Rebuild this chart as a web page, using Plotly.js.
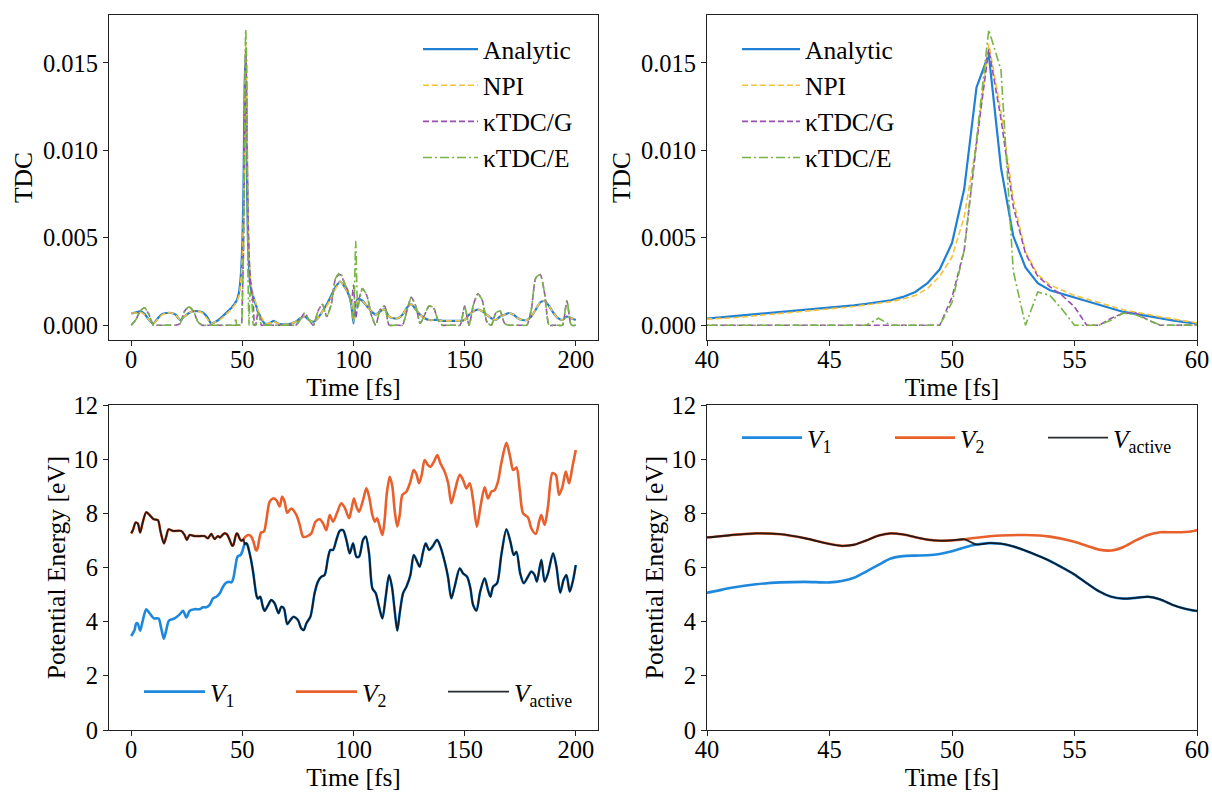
<!DOCTYPE html>
<html><head><meta charset="utf-8">
<script src="https://cdn.plot.ly/plotly-3.0.1.min.js"></script>
<style>html,body{margin:0;padding:0;background:#fff}#chart{width:1212px;height:792px}</style>
</head><body><div id="chart"></div>
<script>
// ---------- TDC data (time in fs) ----------
const tTDC = [0,2,4,6,8,10,12,14,16,18,20,22,24,26,28,30,32,34,36,38,
  40,40.5,41,41.5,42,42.5,43,43.5,44,44.5,45,45.5,46,46.5,47,47.5,48,48.5,49,49.5,
  50,50.5,51,51.5,52,52.5,53,53.5,54,54.5,55,55.5,56,56.5,57,57.5,58,58.5,59,59.5,60,
  62,64,66,68,70,72,74,76,78,80,82,84,86,88,90,92,94,96,98,99,100,101,
  102,104,106,108,110,112,114,116,118,120,122,124,126,128,130,132,134,136,138,140,
  142,144,146,148,150,152,154,156,158,160,162,164,166,168,170,172,174,176,178,180,
  182,184,186,188,190,192,194,196,198,200];

const tdcAnalytic = [.00068,.00072,.0008,.00065,.0003,.0001,.0004,.00065,.0007,.0007,.0006,.0003,.0005,.0007,.0008,.0008,.00075,.0005,.0001,.0002,
  .00038,.00044,.0005,.00056,.00062,.00068,.00074,.0008,.00086,.00093,.00099,.00106,.00114,.00122,.00132,.00143,.00162,.0019,.0024,.0032,
  .0047,.0078,.0136,.0155,.009,.0051,.0033,.0024,.002,.0018,.0016,.0014,.0012,.001,.00076,.00065,.00052,.0004,.00028,.00018,.0001,
  .0001,.00025,.0001,.00005,.00005,.0001,.0002,.0004,.0005,.0003,.0002,.0004,.0008,.0012,.0017,.0022,.0025,.0022,.0017,.0012,.0001,.0012,
  .0015,.0014,.0011,.0008,.0006,.0008,.0009,.0005,.0004,.0004,.0006,.001,.0012,.0009,.0006,.0004,.0003,.0003,.0003,.00025,
  .00025,.00025,.00025,.00025,.0003,.0006,.0008,.0009,.0008,.0006,.0004,.0003,.0005,.0006,.0007,.0006,.0004,.0003,.0003,.0005,
  .0009,.0013,.0014,.0011,.0007,.0004,.0003,.0005,.0004,.0003];

const tdcNPI = [.0007,.0007,.00075,.0006,.0003,.0001,.00035,.0006,.0007,.0007,.0006,.0003,.0005,.0007,.0008,.0008,.0007,.0004,.0001,.0002,
  .00032,.00037,.00042,.00048,.00054,.0006,.00066,.00072,.00078,.00085,.00093,.001,.00107,.00115,.00124,.00135,.0015,.0017,.0021,.0028,
  .0039,.0062,.0104,.0161,.0122,.0072,.0042,.0029,.0023,.002,.0017,.0015,.0013,.0011,.00088,.00075,.0006,.00048,.00036,.00024,.00013,
  .0001,.0002,.0001,.00005,.00005,.0001,.0002,.0004,.0005,.0003,.0002,.0004,.0008,.0011,.0016,.0021,.0025,.0022,.0017,.0013,.0002,.0012,
  .0014,.0014,.0011,.0008,.0006,.0008,.0009,.0005,.0004,.0004,.0006,.001,.0012,.0009,.0006,.0004,.0003,.0003,.0003,.00025,
  .00025,.00025,.00025,.00025,.0003,.0006,.0008,.0009,.0008,.0006,.0004,.0003,.0005,.0006,.0007,.0006,.0004,.0003,.0003,.0005,
  .0009,.0013,.0014,.0011,.0007,.0004,.0003,.0005,.0004,.0003];

const tdcKappaG = [0,.0003,.0008,.001,.0006,0,0,0,0,0,0,.0001,.0008,.00105,.0008,.0002,0,0,0,0,
  0,0,0,0,0,0,0,0,0,0,0,0,0,0,0,0,0,0,0,0,
  .0016,.0043,.0104,.0158,.0118,.0068,.0041,.0028,.0022,.0017,.00105,0,0,.0004,.0007,.0007,.0003,0,0,0,0,
  0,0,0,0,0,0,0,.0003,.0007,.0003,0,.0008,.0012,.0005,.0012,.0027,.0029,.0024,.0018,.0012,.0023,.0004,
  .0012,.0021,.0017,.0006,0,.0009,.0011,0,0,0,0,.0008,.0016,.0011,.0001,.0006,.0011,.001,.0003,0,
  0,0,0,0,.0011,0,.0012,.0018,.0014,.0002,0,.0007,.0008,.0001,0,0,0,0,0,.0009,
  .0027,.0029,.0018,0,0,0,0,.0014,0,0];

const tdcKappaE = [0,.0003,.0008,.001,.0006,0,0,0,0,0,0,.0001,.0008,.00105,.0008,.0002,0,0,0,0,
  0,0,0,0,0,0,0,0,0,0,0,0,0,0,.0004,0,0,0,0,0,
  .0013,.0043,.0106,.0169,.0146,.0031,0,.0019,.0017,.0009,0,0,0,.0003,.0007,.0006,.0003,0,0,0,0,
  0,0,0,0,0,0,0,.0003,.0007,.0003,0,.0008,.0012,.0005,.0012,.0027,.003,.0024,.0018,.0012,.0003,.0048,
  .001,.0021,.0017,.0006,0,.0009,.0011,0,0,0,0,.0008,.0016,.0011,.0001,.0006,.0011,.001,.0003,0,
  0,0,0,0,.0011,0,.0012,.0018,.0014,.0002,0,.0007,.0008,.0001,0,0,0,0,0,.0009,
  .0027,.0029,.0018,0,0,0,0,.0014,0,0];

// ---------- Potential energy data (eV) ----------
const tV1 = [0,1.5,2.25,3,4,5.25,6.75,8.25,10.2,12.3,13.5,14.7,15.75,17,19.5,21.8,23.3,24.8,26.3,28.5,30.8,32.3,33.8,35.3,36.8,38.3,
  40,41,42,43,44,45,45.5,46,46.5,47,47.5,48,48.5,49,49.5,50,50.5,51,51.5,52,52.5,53,53.5,54,54.5,55,55.5,56,56.5,57,57.5,58,58.5,59,59.5,60,
  61.5,63,64.5,66.3,67.5,68.7,70.2,71.6,73,75,76.5,77.6,78.8,80.6,82.5,84,85.5,87,88.5,89.6,90.8,92.3,93.8,95.3,96.8,98.3,99.8,
  101.3,102.5,104.3,105.5,107,108.5,110,111.5,113,114.5,116,117.3,118.5,119.7,120.8,122.3,123.8,125.6,127.1,128.6,129.8,131.3,132.5,134,135.5,137.6,139.1,
  141,142.5,144,145.5,147.8,149.3,151.1,152.6,153.8,155.3,157,159,160.5,161.6,162.8,164.6,166.5,168.8,170.6,172.1,173.3,175,176.6,178.5,180,
  181.5,182.5,184.5,186,187.5,189.8,191.3,193,194.5,195.8,197.3,198.8,200];
const V1 = [3.47,3.69,3.94,3.92,3.67,4.06,4.46,4.31,4.12,4.12,3.75,3.37,3.69,4.04,4.12,4.27,4.4,4.16,4.4,4.46,4.46,4.53,4.53,4.62,4.86,4.92,
  5.07,5.25,5.38,5.45,5.47,5.45,5.5,5.62,5.85,6.1,6.33,6.42,6.44,6.45,6.5,6.6,6.74,6.85,6.9,6.88,6.78,6.62,6.44,6.24,6.0,5.74,5.42,5.12,4.92,4.85,4.88,4.92,4.82,4.62,4.48,4.4,
  4.6,4.8,4.68,4.31,4.55,4.49,3.91,4.06,4.18,4.06,3.75,3.69,3.94,4.18,5.05,5.48,5.66,5.72,6.34,6.65,6.65,7.02,7.35,7.38,7.02,6.52,6.89,
  6.4,6.4,7.02,7.14,6.52,5.23,5.05,4.55,4.12,4.92,5.72,5.29,4.43,3.67,4.31,5.05,5.29,5.72,6.46,6.22,6.03,6.58,6.89,6.65,6.77,7.02,6.77,
  6.22,5.66,4.86,5.29,5.97,5.78,5.66,5.23,4.62,4.41,5.11,5.6,5.17,4.92,5.29,5.42,6.46,7.41,6.95,6.46,6.58,5.78,5.42,5.66,5.85,
  5.72,5.48,6.28,5.48,5.78,6.52,6.03,5.07,5.54,5.72,5.11,5.54,6.09];

const tV2 = [0,0.75,2,3,4,5.25,6.75,8.25,10.2,12,13.2,14.7,15.75,16.8,18.8,22.5,24,25,26.3,28.5,30.8,33,34.5,36,37.5,39,
  40,41,42,43,44,45,45.5,46,46.5,47,47.5,48,48.5,49,49.5,50,50.5,51,52,53,54,55,55.5,56,56.5,57,57.5,58,58.5,59,59.5,60,
  60.8,62.3,63.8,65.3,66.8,67.9,69,70.2,72,74.3,75.8,77.3,78.8,81,82.9,84.8,86.3,87.8,89.3,90.8,92.6,94.5,96,98,99,
  100.2,101.3,102.5,104.3,105.8,107,108.5,109.6,110.6,111.8,113,114,115,116.3,117.5,118.5,119.7,120.8,122,123.8,125.6,127.1,128.3,129.5,130.7,
  132,133.5,134.7,136.2,137.7,139.1,141,142.6,144,145.5,147.8,149.3,150.8,152.3,153.8,155.5,157,159,160.5,162,163.5,165,166.5,168.8,
  170.6,171.8,173.3,174.8,176.3,178.5,180,182,183.5,184.5,186,187.5,189.5,191,192.5,194,195.5,197,198.5,200];
const V2 = [7.26,7.38,7.66,7.62,7.29,7.69,8.04,7.94,7.78,7.75,7.32,6.89,7.14,7.41,7.35,7.35,7.2,7.02,7.2,7.16,7.16,7.16,7.08,7.24,7.05,7.16,
  7.11,7.2,7.26,7.23,7.08,6.87,6.8,6.84,7.0,7.18,7.26,7.22,7.12,7.03,6.99,7.0,7.04,7.1,7.18,7.2,7.14,6.95,6.8,6.66,6.63,6.76,7.0,7.2,7.3,7.3,7.31,7.38,
  7.75,8.43,8.55,8.49,8.25,8.62,8.43,8.02,8.18,7.94,7.57,7.14,7.14,7.26,7.69,7.78,7.63,7.38,7.94,7.69,8.02,8.37,8.22,7.82,8.12,
  8.55,8.25,8.06,8.49,8.92,8.62,7.94,7.69,7.82,7.51,7.2,7.75,8.74,9.35,8.98,8.12,7.51,7.94,8.68,8.8,9.17,9.6,9.45,9.11,9.42,
  9.97,9.78,9.72,9.91,10.15,9.85,9.54,9.11,8.37,8.8,9.42,9.23,8.92,9.11,8.49,7.51,8.18,8.96,8.55,8.8,8.86,9.17,9.85,10.6,
  10.03,9.6,9.69,8.86,8.0,7.85,7.45,7.24,7.69,7.94,7.57,8.25,9.48,9.42,8.68,8.98,9.54,9.11,9.72,10.34];

const hopTime = 50.75; // active state switches from V2 to V1
const tAct = tV2.filter(t => t <= hopTime).concat(tV1.filter(t => t >= hopTime));
const VAct = V2.filter((v, i) => tV2[i] <= hopTime).concat(V1.filter((v, i) => tV1[i] >= hopTime));

const tdcNames = ['Analytic', 'NPI', '\u03BATDC/G', '\u03BATDC/E'];
const potNames = ['<i>V</i><sub>1</sub>', '<i>V</i><sub>2</sub>', '<i>V</i><sub>active</sub>'];

// ---------- styling ----------
const FONT = 'Liberation Serif, Times New Roman, serif';
const FS = 25.5, TFS = 24.5;
const tdcStyle = [
  {color:'#1f80d4', width:2.2, dash:'solid'},
  {color:'#f6c23c', width:1.6, dash:'6px,3px'},
  {color:'#9a4fb4', width:1.6, dash:'6px,3px'},
  {color:'#77b544', width:1.6, dash:'9px,3px,2px,3px'}
];
const tdcSeries = [tdcAnalytic, tdcNPI, tdcKappaG, tdcKappaE];

const traces = [];
tdcSeries.forEach((s, i) => {
  traces.push({x: tTDC, y: s, xaxis:'x', yaxis:'y', type:'scatter', mode:'lines', name: tdcNames[i],
    line: Object.assign({shape:'spline', smoothing:0.6}, tdcStyle[i]), legend:'legend', legendgroup:'a'+i});
});
tdcSeries.forEach((s, i) => {
  traces.push({x: tTDC, y: s, xaxis:'x2', yaxis:'y2', type:'scatter', mode:'lines', name: tdcNames[i],
    line: Object.assign({shape:'linear'}, tdcStyle[i]), legend:'legend2', legendgroup:'b'+i});
});
const potStyle = [
  {color:'#1e88dc', width:2.6},
  {color:'#e8602c', width:2.6},
  {color:'rgba(10,14,20,0.88)', width:1.8}
];
const potX = [tV1, tV2, tAct], potY = [V1, V2, VAct];
[['x3','y3','legend3'], ['x4','y4','legend4']].forEach((ax, k) => {
  for (let i = 0; i < 3; i++) {
    traces.push({x: potX[i], y: potY[i], xaxis: ax[0], yaxis: ax[1], type:'scatter', mode:'lines', name: potNames[i],
      line: Object.assign({shape:'spline', smoothing:0.8}, potStyle[i]), legend: ax[2], legendgroup: 'p'+k+i});
  }
});

function axis(domain, anchor, range, tick0, dtick, title, standoff, extra) {
  return Object.assign({
    domain: domain, anchor: anchor, range: range, tick0: tick0, dtick: dtick,
    showgrid:false, zeroline:false, showline:true, mirror:true, linecolor:'#222', linewidth:1,
    ticks:'outside', ticklen:5, tickwidth:1, tickcolor:'#222',
    tickfont:{family:FONT, size:TFS, color:'#000'},
    title:{text:title, font:{family:FONT, size:FS, color:'#000'}, standoff: standoff}
  }, extra || {});
}
const xL = [109/1212, 598/1212], xR = [707/1212, 1197/1212];
const yT = [1-340/792, 1-15/792], yB = [1-730/792, 1-405/792];
const tdcRange = [-0.000845, 0.017745];

const legendBase = {font:{family:FONT, size:FS, color:'#000'}, bgcolor:'rgba(0,0,0,0)', borderwidth:0};
const xExtra = {ticklabelstandoff:-7};

const layout = {
  width:1212, height:792, margin:{l:0, r:0, t:0, b:0},
  paper_bgcolor:'#fff', plot_bgcolor:'#fff', font:{family:FONT, size:FS, color:'#000'},
  xaxis: axis(xL, 'y', [-10, 210], 0, 50, 'Time [fs]', 1, xExtra),
  yaxis: axis(yT, 'x', tdcRange, 0, 0.005, 'TDC', 3, {tickformat:'.3f'}),
  xaxis2: axis(xR, 'y2', [40, 60], 40, 5, 'Time [fs]', 1, xExtra),
  yaxis2: axis(yT, 'x2', tdcRange, 0, 0.005, 'TDC', 3, {tickformat:'.3f'}),
  xaxis3: axis(xL, 'y3', [-10, 210], 0, 50, 'Time [fs]', 1, xExtra),
  yaxis3: axis(yB, 'x3', [0, 12], 0, 2, 'Potential Energy [eV]', 0),
  xaxis4: axis(xR, 'y4', [40, 60], 40, 5, 'Time [fs]', 1, xExtra),
  yaxis4: axis(yB, 'x4', [0, 12], 0, 2, 'Potential Energy [eV]', 0),
  legend: Object.assign({}, legendBase, {x:418/1212, y:1-26/792, xanchor:'left', yanchor:'top', tracegroupgap:0, itemwidth:55}),
  legend2: Object.assign({}, legendBase, {x:737/1212, y:1-26/792, xanchor:'left', yanchor:'top', tracegroupgap:0, itemwidth:58}),
  legend3: Object.assign({}, legendBase, {x:139/1212, y:1-692/792, xanchor:'left', yanchor:'middle', orientation:'h', itemwidth:61, entrywidth:76, entrywidthmode:'pixels'}),
  legend4: Object.assign({}, legendBase, {x:737/1212, y:1-438/792, xanchor:'left', yanchor:'middle', orientation:'h', itemwidth:60, entrywidth:78, entrywidthmode:'pixels'})
};

Plotly.newPlot('chart', traces, layout, {displayModeBar:false, staticPlot:true});
</script>
</body></html>
